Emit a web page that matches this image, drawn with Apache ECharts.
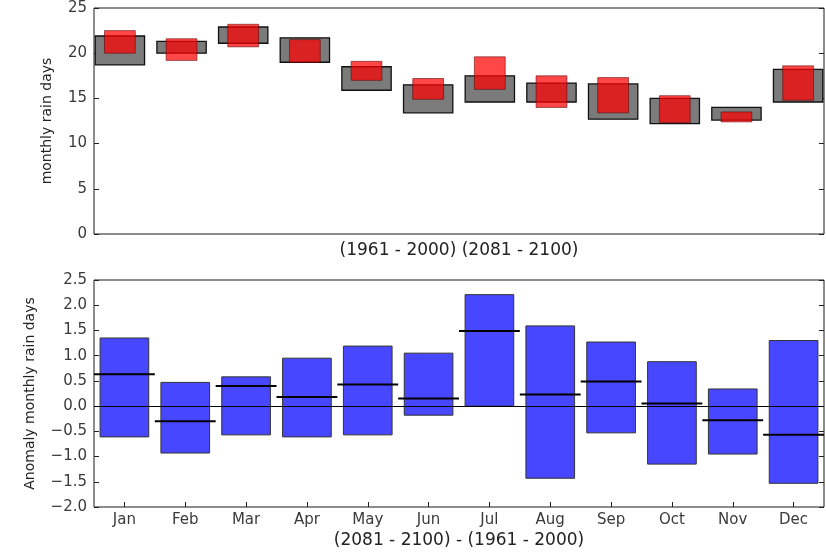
<!DOCTYPE html>
<html>
<head>
<meta charset="utf-8">
<script src="https://cdn.jsdelivr.net/npm/echarts@6/dist/echarts.min.js"></script>
<style>
html,body{margin:0;padding:0;background:#fff;}
#chart{width:826px;height:554px;}
</style>
</head>
<body>
<div id="chart"></div>
<script>
const months = ['Jan','Feb','Mar','Apr','May','Jun','Jul','Aug','Sep','Oct','Nov','Dec'];
// Top panel: rain-day ranges (1961-2000 grey, 2081-2100 red)
const baseLow  = [18.7, 20.0, 21.1, 19.0, 15.9, 13.4, 14.6, 14.6, 12.7, 12.2, 12.6, 14.6];
const baseHigh = [21.9, 21.3, 22.9, 21.7, 18.5, 16.5, 17.5, 16.7, 16.6, 15.0, 14.0, 18.2];
const futLow   = [20.0, 19.2, 20.7, 19.0, 17.0, 14.9, 16.0, 14.0, 13.4, 12.3, 12.4, 14.8];
const futHigh  = [22.5, 21.6, 23.2, 21.5, 19.1, 17.2, 19.6, 17.5, 17.3, 15.3, 13.5, 18.6];
// Bottom panel: anomaly ranges and means
const anomLow  = [-0.61, -0.93, -0.57, -0.61, -0.57, -0.18, 0.00, -1.43, -0.53, -1.15, -0.95, -1.53];
const anomHigh = [1.35, 0.47, 0.58, 0.95, 1.19, 1.05, 2.21, 1.59, 1.27, 0.88, 0.34, 1.30];
const anomMean = [0.63, -0.30, 0.40, 0.18, 0.43, 0.15, 1.49, 0.23, 0.49, 0.05, -0.28, -0.57];
const topTicks = [0, 25, 5];      // min, max, interval
const botTicks = [-2.0, 2.5, 0.5];

const FONT = 'DejaVu Sans';
const chart = echarts.init(document.getElementById('chart'), null, {renderer:'canvas'});

function rangeRect(halfW, style) {
  return function (params, api) {
    const x = api.value(0), lo = api.value(1), hi = api.value(2);
    const p1 = api.coord([x - halfW, hi]);
    const p2 = api.coord([x + halfW, lo]);
    return {type:'rect', shape:{x:p1[0], y:p1[1], width:p2[0]-p1[0], height:p2[1]-p1[1]}, style: style};
  };
}

const topData = (lo, hi) => months.map((m, i) => [i, lo[i], hi[i]]);

const axisLabelStyle = {fontFamily: FONT, fontSize: 15, color: '#3a3a3a'};
const xNameStyle = {fontFamily: FONT, fontSize: 17, color: '#222'};
const yNameStyle = {fontFamily: FONT, fontSize: 14, color: '#222'};
const fmt1 = v => v.toFixed(1).replace('-', '\u2212');
const tick = {show: true, inside: true, length: 5, lineStyle: {color: '#222'}};

const option = {
  animation: false,
  grid: [
    {left: 94, right: 2, top: 8, bottom: 320, show: true, borderColor: '#1a1a1a', borderWidth: 1},
    {left: 94, right: 2, top: 280, bottom: 47, show: true, borderColor: '#1a1a1a', borderWidth: 1}
  ],
  xAxis: [
    {type: 'value', gridIndex: 0, min: -0.42, max: 11.42,
     axisLine: {show: false, onZero: false}, axisTick: {show: false}, axisLabel: {show: false}, splitLine: {show: false},
     name: '(1961 - 2000) (2081 - 2100)', nameLocation: 'middle', nameGap: 8, nameTextStyle: xNameStyle},
    {type: 'category', gridIndex: 1, data: months, boundaryGap: true,
     axisLine: {show: false, onZero: false},
     axisTick: Object.assign({alignWithLabel: true}, tick),
     axisLabel: {fontFamily: FONT, fontSize: 15, color: '#3a3a3a', margin: 6, interval: 0},
     splitLine: {show: false},
     name: '(2081 - 2100) - (1961 - 2000)', nameLocation: 'middle', nameGap: 25, nameTextStyle: xNameStyle}
  ],
  yAxis: [
    {type: 'value', gridIndex: 0, min: topTicks[0], max: topTicks[1], interval: topTicks[2],
     axisLine: {show: false, onZero: false}, axisTick: tick,
     axisLabel: Object.assign({margin: 7}, axisLabelStyle), splitLine: {show: false},
     name: 'monthly rain days', nameLocation: 'middle', nameRotate: 90, nameGap: 40,
     nameTextStyle: yNameStyle},
    {type: 'value', gridIndex: 0, position: 'right', min: topTicks[0], max: topTicks[1], interval: topTicks[2],
     axisLine: {show: false, onZero: false}, axisTick: tick,
     axisLabel: {show: false}, splitLine: {show: false}},
    {type: 'value', gridIndex: 1, min: botTicks[0], max: botTicks[1], interval: botTicks[2],
     axisLine: {show: false, onZero: false}, axisTick: tick,
     axisLabel: Object.assign({margin: 7, formatter: fmt1}, axisLabelStyle), splitLine: {show: false},
     name: 'Anomaly monthly rain days', nameLocation: 'middle', nameRotate: 90, nameGap: 57,
     nameTextStyle: yNameStyle},
    {type: 'value', gridIndex: 1, position: 'right', min: botTicks[0], max: botTicks[1], interval: botTicks[2],
     axisLine: {show: false, onZero: false}, axisTick: tick,
     axisLabel: {show: false}, splitLine: {show: false}}
  ],
  series: [
    {type: 'custom', name: '1961-2000', xAxisIndex: 0, yAxisIndex: 0,
     renderItem: rangeRect(0.4, {fill: '#7b7b7b', stroke: '#111', lineWidth: 1.3}),
     encode: {x: 0, y: [1, 2]}, data: topData(baseLow, baseHigh), z: 2},
    {type: 'custom', name: '2081-2100', xAxisIndex: 0, yAxisIndex: 0,
     renderItem: rangeRect(0.25, {fill: 'rgba(255,0,0,0.72)', stroke: 'rgba(90,0,0,0.55)', lineWidth: 1}),
     encode: {x: 0, y: [1, 2]}, data: topData(futLow, futHigh), z: 3},
    {type: 'custom', name: 'anomaly range', xAxisIndex: 1, yAxisIndex: 2,
     renderItem: function (params, api) {
       const i = api.value(0);
       const band = api.size([1, 0])[0];
       const top = api.coord([i, api.value(2)]);
       const bot = api.coord([i, api.value(1)]);
       const w = band * 0.8;
       return {type: 'rect', shape: {x: top[0] - w / 2, y: top[1], width: w, height: bot[1] - top[1]},
               style: {fill: 'rgba(0,0,255,0.72)', stroke: '#333', lineWidth: 1}};
     },
     encode: {x: 0, y: [1, 2]}, data: months.map((m, i) => [i, anomLow[i], anomHigh[i]]), z: 2,
     markLine: {silent: true, symbol: 'none', label: {show: false},
                lineStyle: {color: '#000', width: 1, type: 'solid'}, data: [{yAxis: 0}], z: 5}},
    {type: 'custom', name: 'anomaly mean', xAxisIndex: 1, yAxisIndex: 2,
     renderItem: function (params, api) {
       const i = api.value(0);
       const band = api.size([1, 0])[0];
       const p = api.coord([i, api.value(1)]);
       return {type: 'line', shape: {x1: p[0] - band / 2, y1: p[1], x2: p[0] + band / 2, y2: p[1]},
               style: {stroke: '#000', lineWidth: 2}};
     },
     encode: {x: 0, y: 1}, data: months.map((m, i) => [i, anomMean[i]]), z: 6}
  ]
};
chart.setOption(option);
</script>
</body>
</html>
